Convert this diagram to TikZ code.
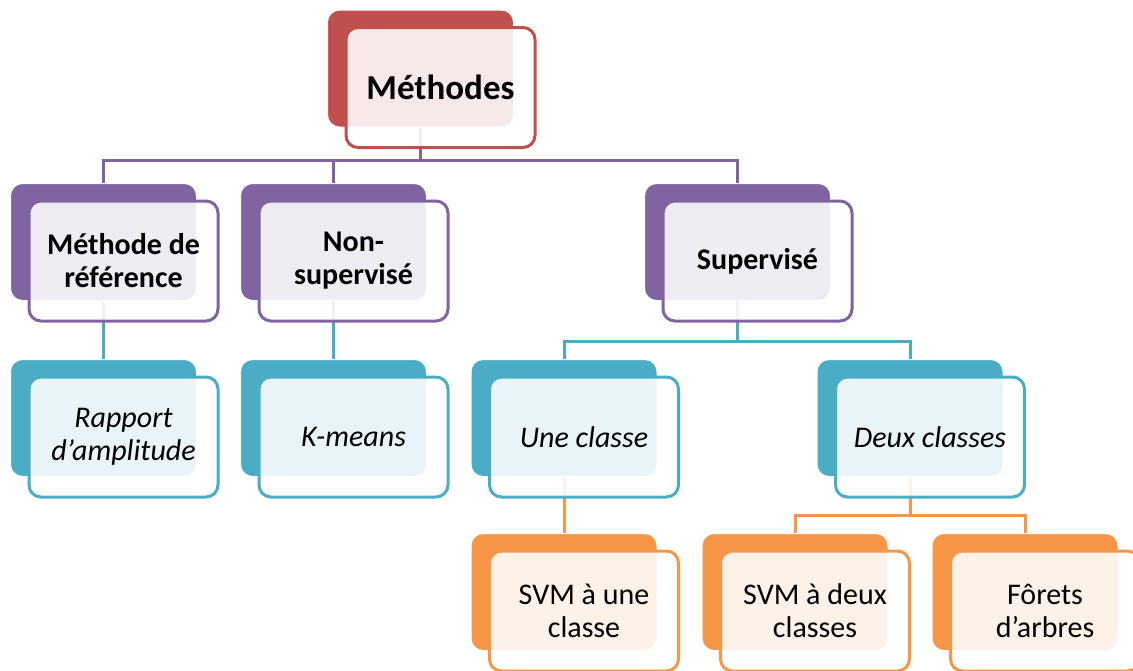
\documentclass[tikz,border=0pt]{standalone}
\usepackage{fontspec}
\setmainfont{Carlito}
\usepackage{tikz}
\usetikzlibrary{positioning, calc}
\definecolor{methred}{HTML}{C0504D}
\definecolor{methpurple}{HTML}{8064A2}
\definecolor{methblue}{HTML}{4BACC6}
\definecolor{methorange}{HTML}{F79646}
\pgfdeclarelayer{background}
\pgfsetlayers{background,main}
\tikzstyle{backbox} = [rectangle, rounded corners=12pt, minimum width=186pt, minimum height=117pt, inner sep=0pt, draw=white, line width=1pt]
\tikzstyle{frontbox} = [rectangle, rounded corners=12pt, minimum width=189pt, minimum height=120pt, inner sep=0pt, line width=3pt, fill=white, fill opacity=0.88, text opacity=1, align=center, xshift=20pt, yshift=-19pt, font=\fontsize{30}{33}\selectfont]
\tikzstyle{link} = [line width=3pt]

\begin{document}
\begin{tikzpicture}[x=1pt, y=-1pt]
        \clip (0,0) rectangle (1133,670);
        \useasboundingbox (0,0) rectangle (1133,670);
        % level 1
        \node[backbox, fill=methred] (meth-b) at (420.5,68.5) {};
        \node[frontbox, draw=methred, font=\fontsize{35}{38}\selectfont\bfseries] (meth) at (meth-b) {Méthodes};
        % level 2
        \node[backbox, fill=methpurple] (ref-b) at (103.5,242) {};
        \node[frontbox, draw=methpurple, font=\fontsize{30}{33}\selectfont\bfseries] (ref) at (ref-b) {Méthode de\\référence};
        \node[backbox, fill=methpurple] (nonsup-b) at (333.5,242) {};
        \node[frontbox, draw=methpurple, font=\fontsize{30}{33}\selectfont\bfseries] (nonsup) at (nonsup-b) {Non-\\supervisé};
        \node[backbox, fill=methpurple] (sup-b) at (737.5,242) {};
        \node[frontbox, draw=methpurple, font=\fontsize{30}{33}\selectfont\bfseries] (sup) at (sup-b) {Supervisé};
        % level 3
        \node[backbox, fill=methblue] (rap-b) at (103.5,418) {};
        \node[frontbox, draw=methblue, font=\fontsize{30}{33}\selectfont\itshape] (rap) at (rap-b) {Rapport\\d’amplitude};
        \node[backbox, fill=methblue] (kmeans-b) at (333.5,418) {};
        \node[frontbox, draw=methblue, font=\fontsize{30}{33}\selectfont\itshape] (kmeans) at (kmeans-b) {K-means};
        \node[backbox, fill=methblue] (une-b) at (564,418) {};
        \node[frontbox, draw=methblue, font=\fontsize{30}{33}\selectfont\itshape] (une) at (une-b) {Une classe};
        \node[backbox, fill=methblue] (deux-b) at (910,418) {};
        \node[frontbox, draw=methblue, font=\fontsize{30}{33}\selectfont\itshape] (deux) at (deux-b) {Deux classes};
        % level 4
        \node[backbox, fill=methorange] (svmune-b) at (564,592) {};
        \node[frontbox, draw=methorange] (svmune) at (svmune-b) {SVM à une\\classe};
        \node[backbox, fill=methorange] (svmdeux-b) at (795,592) {};
        \node[frontbox, draw=methorange] (svmdeux) at (svmdeux-b) {SVM à deux\\classes};
        \node[backbox, fill=methorange] (forets-b) at (1025,592) {};
        \node[frontbox, draw=methorange] (forets) at (forets-b) {Fôrets\\d’arbres};
        % connectors
        \begin{pgfonlayer}{background}
        \draw[link, methpurple] (meth-b.south) -- ++(0,33) -| (ref-b.north);
        \draw[link, methpurple] (meth-b.south) -- ++(0,33) -| (nonsup-b.north);
        \draw[link, methpurple] (meth-b.south) -- ++(0,33) -| (sup-b.north);
        \draw[link, methblue] (ref-b.south) -- (rap-b.north);
        \draw[link, methblue] (nonsup-b.south) -- (kmeans-b.north);
        \draw[link, methblue] (sup-b.south) -- ++(0,40) -| (une-b.north);
        \draw[link, methblue] (sup-b.south) -- ++(0,40) -| (deux-b.north);
        \draw[link, methorange] (une-b.south) -- (svmune-b.north);
        \draw[link, methorange] (deux-b.south) -- ++(0,38) -| (svmdeux-b.north);
        \draw[link, methorange] (deux-b.south) -- ++(0,38) -| (forets-b.north);
        \end{pgfonlayer}
    \end{tikzpicture}
\end{document}
